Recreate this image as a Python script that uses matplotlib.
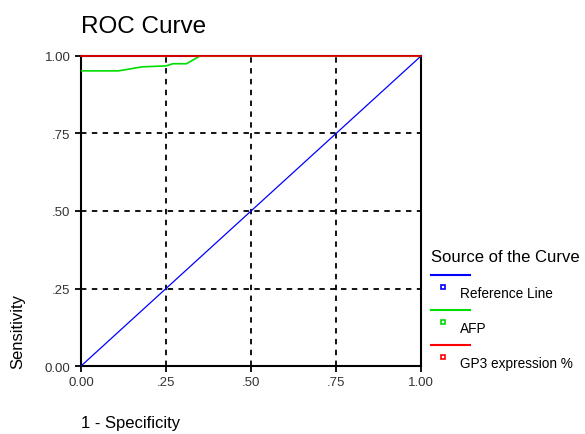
import matplotlib.pyplot as plt
from matplotlib.lines import Line2D

plt.rcParams['font.family'] = ['Liberation Sans', 'DejaVu Sans']

# curves
ref_x = [0.0, 1.0]
ref_y = [0.0, 1.0]
afp_x = [0.0, 0.11, 0.18, 0.25, 0.27, 0.31, 0.35, 1.0]
afp_y = [0.952, 0.952, 0.965, 0.968, 0.975, 0.975, 1.0, 1.0]
gp3_x = [0.0, 1.0]
gp3_y = [1.0, 1.0]

ticks = [0, 0.25, 0.5, 0.75, 1.0]
tick_labels = ["0.00", ".25", ".50", ".75", "1.00"]

series_names = ["Reference Line", "AFP", "GP3 expression %"]
series_colors = ["#0000ff", "#00dd00", "#ff0000"]

fig = plt.figure(figsize=(5.85, 4.35), dpi=100)
ax = fig.add_axes([0.1385, 0.1563, 0.5812, 0.7127])

#dashed grid at inner ticks
for t in ticks[1:-1]:
    ax.axvline(t, color='black', linestyle=(0, (3, 3)), linewidth=1.3, zorder=1)
    ax.axhline(t, color='black', linestyle=(0, (3, 3)), linewidth=1.3, zorder=1)

ax.plot(ref_x, ref_y, color=series_colors[0], linewidth=0.9, zorder=3)
ax.plot(afp_x, afp_y, color=series_colors[1], linewidth=1.2, zorder=3)
ax.plot(gp3_x, gp3_y, color=series_colors[2], linewidth=1.2, zorder=4, clip_on=False)

ax.set_xlim(0, 1)
ax.set_ylim(0, 1)
ax.set_xticks(ticks)
ax.set_xticklabels(tick_labels)
ax.set_yticks(ticks)
ax.set_yticklabels(tick_labels)
ax.tick_params(axis='both', labelsize=9.5, direction='out', length=4, width=1.3,
               colors='black', labelcolor='#333333')
for s in ax.spines.values():
    s.set_linewidth(1.5)

fig.text(0.139, 0.939, "ROC Curve", fontsize=17.5, va='center')
fig.text(0.031, 0.152, "Sensitivity", fontsize=12, rotation=90, va='bottom', ha='center')
fig.text(0.139, 0.016, "1 - Specificity", fontsize=12)

#legend, SPSS style: a line then a small square with the label
fig.text(0.737, 0.409, "Source of the Curve", fontsize=12, va='center')
y0 = 0.3655
for name, c in zip(series_names, series_colors):
    fig.add_artist(Line2D([0.737, 0.803], [y0, y0], color=c, linewidth=1.5,
                          transform=fig.transFigure))
    fig.add_artist(Line2D([0.757], [y0 - 0.028], marker='s', markersize=3.5,
                          markerfacecolor='white', markeredgecolor=c,
                          markeredgewidth=1.2, linestyle='none',
                          transform=fig.transFigure))
    fig.text(0.786, y0 - 0.041, name, fontsize=9.8, va='center')
    y0 -= 0.0805

plt.savefig('out.png', dpi=100)
